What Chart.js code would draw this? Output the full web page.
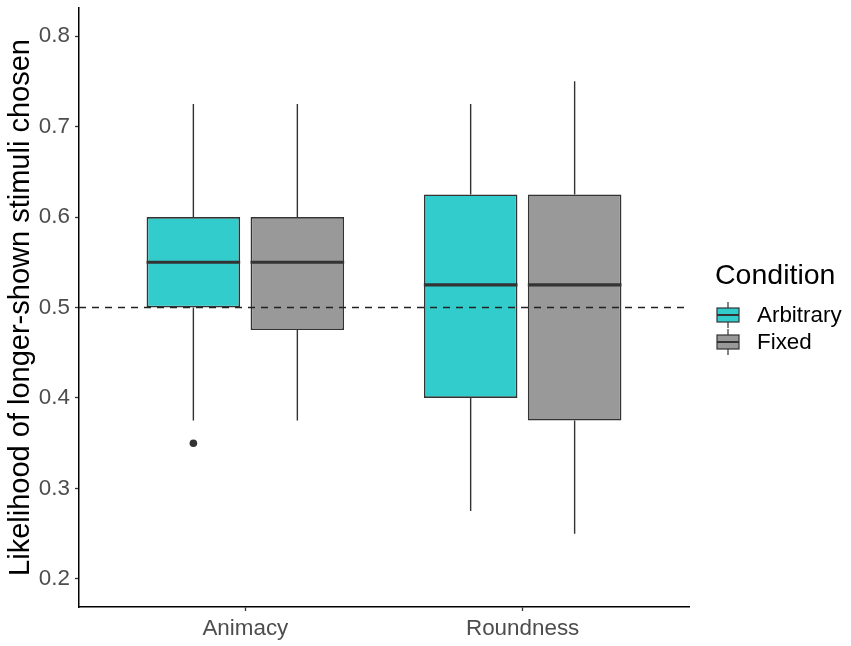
<!DOCTYPE html>
<html>
<head>
<meta charset="utf-8">
<script src="https://cdn.jsdelivr.net/npm/chart.js@4"></script>
<style>
html,body{margin:0;padding:0;background:#fff;}
#wrap{width:851px;height:646px;position:relative;}
</style>
</head>
<body>
<div id="wrap"><canvas id="c"></canvas></div>
<script>
const categories = ['Animacy', 'Roundness'];
const seriesNames = ['Arbitrary', 'Fixed'];
const seriesColors = ['#33CCCC', '#999999'];

const arbitraryMin = [0.375, 0.275];
const arbitraryQ1 = [0.5, 0.4];
const arbitraryMedian = [0.55, 0.525];
const arbitraryQ3 = [0.6, 0.625];
const arbitraryMax = [0.725, 0.725];
const arbitraryOutliers = [[0.35], []];

const fixedMin = [0.375, 0.25];
const fixedQ1 = [0.475, 0.375];
const fixedMedian = [0.55, 0.525];
const fixedQ3 = [0.6, 0.625];
const fixedMax = [0.725, 0.75];
const fixedOutliers = [[], []];

const yTicks = [0.2, 0.3, 0.4, 0.5, 0.6, 0.7, 0.8];
const referenceLine = 0.5;

const stats = [
  {min: arbitraryMin, q1: arbitraryQ1, med: arbitraryMedian, q3: arbitraryQ3, max: arbitraryMax, out: arbitraryOutliers},
  {min: fixedMin, q1: fixedQ1, med: fixedMedian, q3: fixedQ3, max: fixedMax, out: fixedOutliers}
];

Chart.defaults.font.family = '"Liberation Sans", Arial, sans-serif';

const datasets = stats.map((s, k) => ({
  label: seriesNames[k],
  data: categories.map((c, i) => ({x: i + 1, y: [s.q1[i], s.q3[i]]})),
  backgroundColor: seriesColors[k],
  borderColor: '#333333',
  borderWidth: 1.7,
  borderSkipped: false,
  categoryPercentage: 0.75,
  barPercentage: 0.9
}));

const boxPlugin = {
  id: 'boxExtras',
  afterDatasetsDraw(chart) {
    const ctx = chart.ctx;
    const y = chart.scales.y;
    const area = chart.chartArea;
    ctx.save();
    stats.forEach((s, k) => {
      const meta = chart.getDatasetMeta(k);
      meta.data.forEach((el, i) => {
        const cx = el.x, w = el.width;
        ctx.strokeStyle = '#333333';
        ctx.lineWidth = 1.4;
        ctx.beginPath();
        ctx.moveTo(cx, y.getPixelForValue(s.q3[i]));
        ctx.lineTo(cx, y.getPixelForValue(s.max[i]));
        ctx.moveTo(cx, y.getPixelForValue(s.q1[i]));
        ctx.lineTo(cx, y.getPixelForValue(s.min[i]));
        ctx.stroke();
        ctx.lineWidth = 3.2;
        const my = y.getPixelForValue(s.med[i]);
        ctx.beginPath();
        ctx.moveTo(cx - w / 2, my);
        ctx.lineTo(cx + w / 2, my);
        ctx.stroke();
        ctx.fillStyle = '#333333';
        s.out[i].forEach(v => {
          ctx.beginPath();
          ctx.arc(cx, y.getPixelForValue(v), 3.8, 0, Math.PI * 2);
          ctx.fill();
        });
      });
    });
    // dashed reference line
    const ry = y.getPixelForValue(referenceLine);
    ctx.strokeStyle = '#222222';
    ctx.lineWidth = 1.3;
    ctx.setLineDash([7, 6]);
    ctx.beginPath();
    ctx.moveTo(area.left, ry);
    ctx.lineTo(area.right, ry);
    ctx.stroke();
    ctx.restore();
  },
  afterDraw(chart) {
    const ctx = chart.ctx;
    ctx.save();
    ctx.textBaseline = 'middle';
    ctx.textAlign = 'left';
    ctx.fillStyle = '#000000';
    ctx.font = '28.5px "Liberation Sans", Arial, sans-serif';
    ctx.fillText('Condition', 715, 276);
    seriesNames.forEach((name, k) => {
      const cy = 315 + k * 27;
      const x0 = 717, bw = 22, bh = 14, cx = x0 + bw / 2;
      ctx.strokeStyle = '#333333';
      ctx.lineWidth = 1.2;
      ctx.beginPath();
      ctx.moveTo(cx, cy - 13);
      ctx.lineTo(cx, cy + 13);
      ctx.stroke();
      ctx.fillStyle = seriesColors[k];
      ctx.fillRect(x0, cy - bh / 2, bw, bh);
      ctx.strokeRect(x0, cy - bh / 2, bw, bh);
      ctx.lineWidth = 2;
      ctx.beginPath();
      ctx.moveTo(x0, cy);
      ctx.lineTo(x0 + bw, cy);
      ctx.stroke();
      ctx.fillStyle = '#000000';
      ctx.font = '22.4px "Liberation Sans", Arial, sans-serif';
      ctx.fillText(name, 757, cy + 1);
    });
    ctx.restore();
  }
};

new Chart(document.getElementById('c'), {
  type: 'bar',
  data: {datasets},
  options: {
    responsive: true,
    maintainAspectRatio: false,
    animation: false,
    layout: {padding: {top: 8, right: 162, bottom: 0, left: 0}},
    plugins: {legend: {display: false}, tooltip: {enabled: false}},
    scales: {
      x: {
        type: 'linear',
        min: 0.4,
        max: 2.6,
        offset: false,
        afterBuildTicks: (scale) => { scale.ticks = categories.map((c, i) => ({value: i + 1})); },
        afterFit: (scale) => { scale.height = 39; scale.paddingLeft = 0; scale.paddingRight = 0; },
        grid: {display: true, offset: false, drawOnChartArea: false, drawTicks: true, tickLength: 4, tickColor: '#333333', tickWidth: 1.3},
        border: {display: true, color: '#000000', width: 1.5},
        ticks: {
          color: '#4d4d4d',
          font: {size: 22.4},
          padding: 4,
          maxRotation: 0,
          autoSkip: false,
          callback: (v) => categories[Math.round(v) - 1] || ''
        }
      },
      y: {
        type: 'linear',
        min: 0.169,
        max: 0.831,
        afterBuildTicks: (scale) => { scale.ticks = yTicks.map(v => ({value: v})); },
        afterFit: (scale) => { scale.width = 79; scale.paddingTop = 0; scale.paddingBottom = 0; },
        grid: {display: true, drawOnChartArea: false, drawTicks: true, tickLength: 4, tickColor: '#333333', tickWidth: 1.3},
        border: {display: true, color: '#000000', width: 1.5},
        ticks: {
          color: '#4d4d4d',
          font: {size: 22.4},
          padding: 5,
          callback: (v) => v.toFixed(1)
        },
        title: {
          display: true,
          text: 'Likelihood of longer-shown stimuli chosen',
          color: '#000000',
          font: {size: 29},
          padding: {top: 4, bottom: 0}
        }
      }
    }
  },
  plugins: [boxPlugin]
});
</script>
</body>
</html>
